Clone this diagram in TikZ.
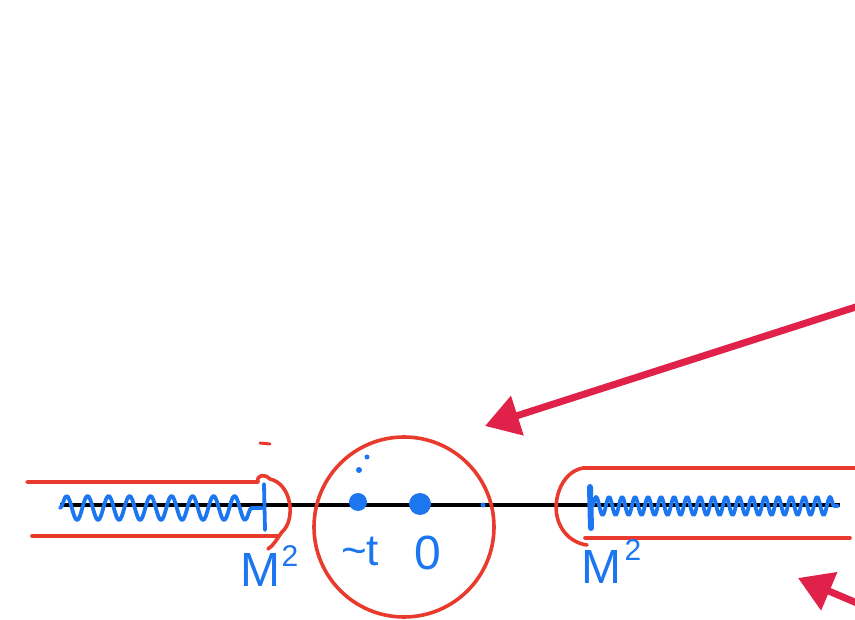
\documentclass[tikz,border=0pt]{standalone}
\usepackage{fontspec}
\setmainfont{Liberation Sans}
\usetikzlibrary{decorations.pathmorphing,arrows.meta}
\definecolor{cred}{RGB}{232,58,45}
\definecolor{cblue}{RGB}{28,118,240}
\definecolor{carrow}{RGB}{224,34,74}
\tikzset{
  contour/.style={draw=cred,line width=3.6pt,line cap=round,line join=round},
  cut/.style={draw=cblue,line width=3.8pt,line cap=round,line join=round},
  bigarrow/.style={draw=carrow,line width=7pt,-{Triangle[length=34pt,width=40pt]}},
  lbl/.style={text=cblue,font=\fontsize{48}{48}\selectfont,inner sep=0pt},
  pt/.style={circle,fill=cblue,inner sep=0pt,minimum size=#1},
}
\begin{document}
\begin{tikzpicture}[x=1pt,y=-1pt]
\useasboundingbox (0,0) rectangle (855,620);
% real axis
\draw[line width=3.2pt,black] (60,505) -- (840,505);
% left cut
\draw[cut,decorate,decoration={snake,segment length=21pt,amplitude=12pt}] (60,508) -- (262,508);
\draw[cut] (264,484) -- (265,530);
% right cut
\draw[cut,decorate,decoration={snake,segment length=13pt,amplitude=9pt}] (592,506) -- (838,506);
\draw[cut,line width=6pt] (590,487) -- (591,528);
% left contour
\draw[contour] (27,482) -- (258,482) .. controls (256,474) and (266,474) .. (270,479)
  .. controls (292,484) and (296,520) .. (282,532) .. controls (276,540) and (274,545) .. (268,549);
\draw[contour] (32,536) -- (278,536);
\draw[contour,line width=3pt] (260,443) -- (270,444);
% right contour
\draw[contour] (855,468) -- (583,468) .. controls (560,472) and (550,505) .. (560,525)
  .. controls (566,538) and (578,544) .. (587,545);
\draw[contour] (585,538) -- (850,538);
% circle
\node[draw=cred,line width=3.6pt,circle,minimum size=180pt,inner sep=0pt] (circ) at (404,527) {};
% points
\node[pt=18pt] (mt) at (358,502) {};
\node[pt=22pt] (zero) at (420,504) {};
\node[pt=6pt] (d1) at (359,470) {};
\node[pt=5pt] (d2) at (367,457) {};
\node[pt=5pt] (d3) at (483,505) {};
% labels
\node[lbl,font=\fontsize{44}{44}\selectfont] (tlab) at (360,551) {\textasciitilde t};
\node[lbl] (zlab) at (428,553) {0};
\node[lbl,anchor=north west] (m1) at (240,553) {M};
\node[lbl,font=\fontsize{30}{30}\selectfont] (m1s) at (290,556) {2};
\node[lbl,anchor=north west] (m2) at (581,550) {M};
\node[lbl,font=\fontsize{30}{30}\selectfont] (m2s) at (633,550) {2};
% arrows
\coordinate (a1s) at (862,305);
\coordinate (a1e) at (485,426);
\draw[bigarrow] (a1s) -- (a1e);
\coordinate (a2s) at (864,606);
\coordinate (a2e) at (798,578);
\draw[bigarrow] (a2s) -- (a2e);
\end{tikzpicture}
\end{document}
